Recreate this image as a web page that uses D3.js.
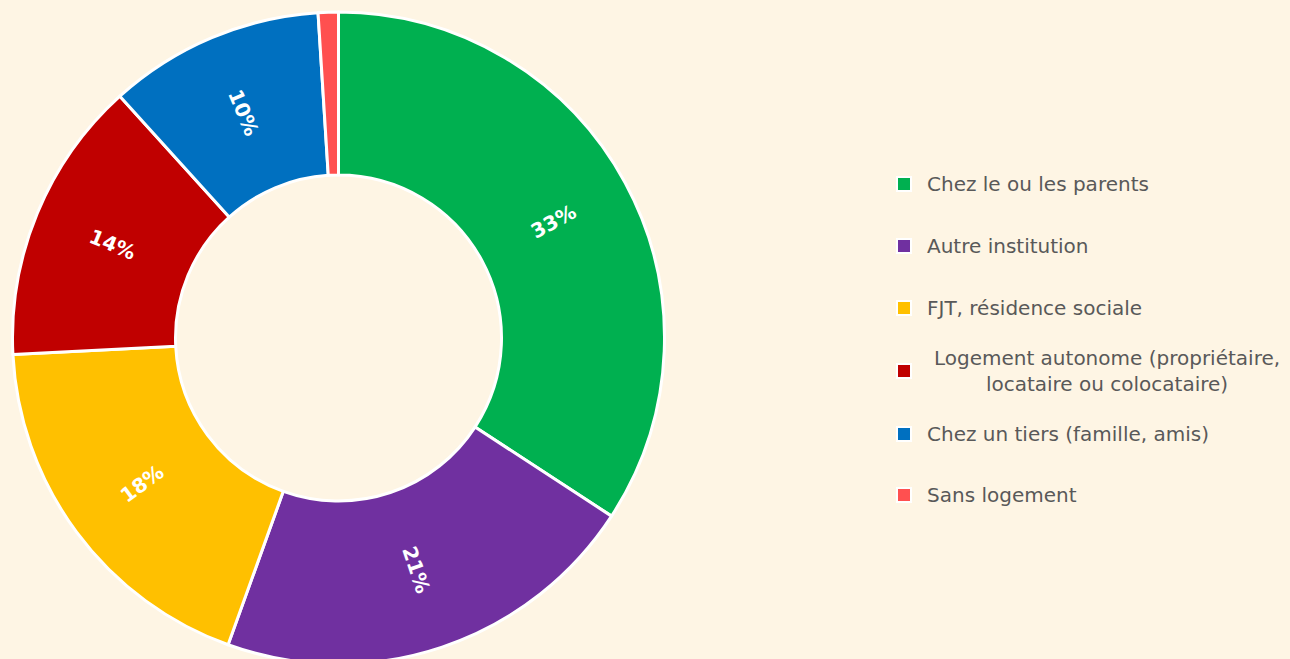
<!DOCTYPE html>
<html><head><meta charset="utf-8">
<script src="https://cdn.jsdelivr.net/npm/d3@7"></script>
<style>html,body{margin:0;padding:0;background:#fef5e4;}svg{display:block;}</style>
</head><body>
<svg id="chart" width="1290" height="659"></svg>
<script>
const categories = ["Chez le ou les parents", "Autre institution", "FJT, résidence sociale", "Logement autonome (propriétaire,|locataire ou colocataire)", "Chez un tiers (famille, amis)", "Sans logement"];
const values = [34.2, 21.3, 18.7, 14.1, 10.7, 1.0];
const valueLabels = ["33%", "21%", "18%", "14%", "10%", ""];
const colors = ["#00B050", "#7030A0", "#FFC000", "#C00000", "#0070C0", "#FF5050"];

const svg = d3.select("#chart");
const cx = 338.5, cy = 338, rOuter = 326, rInner = 163;
const font = "'DejaVu Sans', sans-serif";

const pie = d3.pie().sort(null).value(d => d);
const arcs = pie(values);
const arc = d3.arc().innerRadius(rInner).outerRadius(rOuter);

const g = svg.append("g").attr("transform", `translate(${cx},${cy})`);
g.selectAll("path").data(arcs).enter().append("path")
  .attr("d", arc)
  .attr("fill", (d, i) => colors[i])
  .attr("stroke", "#ffffff")
  .attr("stroke-width", 3)
  .attr("stroke-linejoin", "round");

g.selectAll("text.lbl").data(arcs).enter().append("text")
  .attr("class", "lbl")
  .attr("transform", (d) => {
    const c = arc.centroid(d);
    const mid = (d.startAngle + d.endAngle) / 2 * 180 / Math.PI;
    const rot = mid < 180 ? mid - 90 : mid - 270;
    return `translate(${c[0]},${c[1]}) rotate(${rot})`;
  })
  .attr("text-anchor", "middle")
  .attr("dominant-baseline", "central")
  .attr("fill", "#ffffff")
  .attr("font-family", font)
  .attr("font-weight", "bold")
  .attr("font-size", 20)
  .text((d, i) => valueLabels[i]);

// Legend
const legendY = [184, 246, 308, 371, 434, 495];
const lg = svg.append("g");
categories.forEach((c, i) => {
  const y = legendY[i];
  lg.append("rect").attr("x", 897).attr("y", y - 7).attr("width", 14).attr("height", 14)
    .attr("fill", colors[i]).attr("stroke", "#ffffff").attr("stroke-width", 2);
  const parts = c.split("|");
  if (parts.length === 1) {
    lg.append("text").attr("x", 927).attr("y", y).attr("dominant-baseline", "central")
      .attr("fill", "#595959").attr("font-family", font).attr("font-size", 20).text(parts[0]);
  } else {
    const t = lg.append("text").attr("fill", "#595959").attr("font-family", font).attr("font-size", 20)
      .attr("text-anchor", "middle");
    t.append("tspan").attr("x", 1107).attr("y", y - 13).attr("dominant-baseline", "central").text(parts[0]);
    t.append("tspan").attr("x", 1107).attr("y", y + 13).attr("dominant-baseline", "central").text(parts[1]);
  }
});
</script>
</body></html>
